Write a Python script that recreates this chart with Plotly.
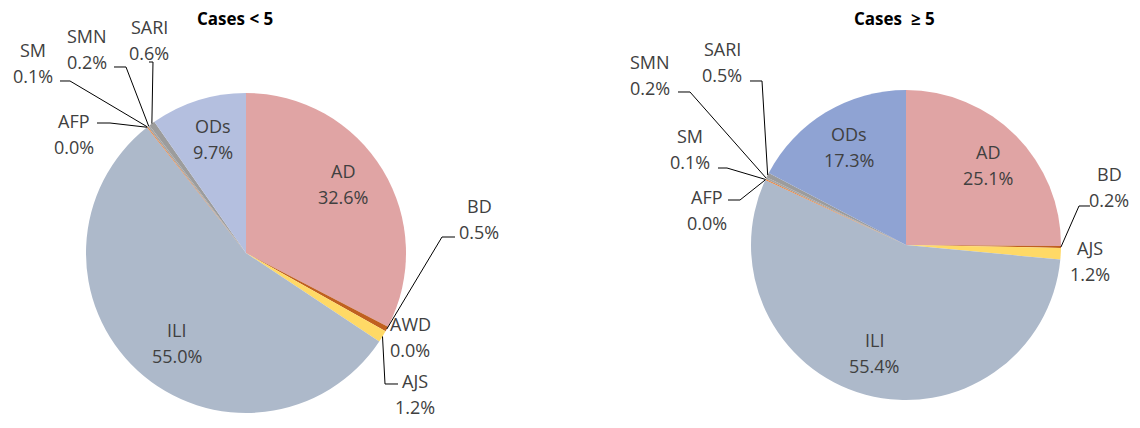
import math
import plotly.graph_objects as go

# ---------------- data ----------------
categories = ["AD", "BD", "AWD", "AJS", "ILI", "AFP", "SM", "SMN", "SARI", "ODs"]
under5_values = [32.6, 0.5, 0.0, 1.2, 55.0, 0.0, 0.1, 0.2, 0.6, 9.7]
over5_values = [25.1, 0.2, 0.0, 1.2, 55.4, 0.0, 0.1, 0.2, 0.5, 17.3]
titles = ["Cases < 5", "Cases  \u2265 5"]

# ---------------- style ----------------
PAGE_MARGIN = 8          # default body margin of the html page
W, H = 1140 - 2 * PAGE_MARGIN, 428 - 2 * PAGE_MARGIN
FONT = "Open Sans"
TXT = "#404040"
LABEL_SIZE = 18
base_colors = {"AD": "#E0A4A4", "BD": "#C0601F", "AWD": "#70AD47", "AJS": "#FFD966",
               "ILI": "#ADB9CA", "AFP": "#5B9BD5", "SM": "#ED7D31", "SMN": "#A5A5A5",
               "SARI": "#9C9C9C"}

pie_styles = [
    dict(values=under5_values, cx=246, cy=253, r=160, ods="#B4BFDF", title=(235, 19),
         inside={"AD": (-3, -8), "ODs": (2, -3), "ILI": (10, 4)},
         outside={
             "SM": dict(label=(33, 63), path=[(60, 81), (70, 81)]),
             "SMN": dict(label=(87, 49), path=[(114, 67), (126, 67)]),
             "SARI": dict(label=(149, 40), path=[(149, 62), (153, 62)]),
             "AFP": dict(label=(74, 134), path=[(97, 123), (110, 123)]),
             "BD": dict(label=(479, 219), path=[(455, 237), (442, 237)]),
             "AWD": dict(label=(410, 337), path=None),
             "AJS": dict(label=(415, 394), path=[(398, 384), (385, 384)]),
         }),
    dict(values=over5_values, cx=906, cy=245, r=155, ods="#8FA3D3", title=(894, 19),
         inside={"AD": (2, 0), "ODs": (2, -1), "ILI": (-2, -1)},
         outside={
             "SMN": dict(label=(650, 75), path=[(678, 92), (690, 92)]),
             "SARI": dict(label=(722, 62), path=[(750, 81), (762, 81)]),
             "SM": dict(label=(690, 149), path=[(718, 168), (727, 168)]),
             "AFP": dict(label=(707, 210), path=[(728, 200), (740, 200)]),
             "BD": dict(label=(1109, 187), path=[(1090, 206), (1079, 206)]),
             "AJS": dict(label=(1090, 261), path=None),
         }),
]


def px(x):
    return (x - PAGE_MARGIN) / W


def py(y):
    return 1 - (y - PAGE_MARGIN) / H


fig = go.Figure()
annotations = []
shapes = []

for st, title in zip(pie_styles, titles):
    vals = st["values"]
    cx, cy, r = st["cx"], st["cy"], st["r"]
    colors = [base_colors.get(c, st["ods"]) for c in categories]
    fig.add_trace(go.Pie(
        labels=categories, values=vals, sort=False, direction="clockwise", rotation=0,
        marker=dict(colors=colors, line=dict(width=0)),
        textinfo="none", hoverinfo="label+percent", showlegend=False,
        domain=dict(x=[px(cx - r), px(cx + r)], y=[py(cy + r), py(cy - r)]),
    ))
    total = sum(vals)
    cum = 0.0
    mids = {}
    for c, v in zip(categories, vals):
        mids[c] = 2 * math.pi * (cum + v / 2) / total
        cum += v

    def add_label(name, pct, x, y):
        for t, dy in ((name, -13), (pct, 13)):
            annotations.append(dict(x=px(x), y=py(y + dy), xref="paper", yref="paper",
                                    text=t, showarrow=False, xanchor="center", yanchor="middle",
                                    font=dict(family=FONT, size=LABEL_SIZE, color=TXT)))

    for c, (nx, ny) in st["inside"].items():
        v = vals[categories.index(c)]
        a = mids[c]
        x = cx + 0.73 * r * math.sin(a) + nx
        y = cy - 0.73 * r * math.cos(a) + ny
        add_label(c, f"{v:.1f}%", x, y)

    for c, o in st["outside"].items():
        v = vals[categories.index(c)]
        add_label(c, f"{v:.1f}%", *o["label"])
        if o["path"]:
            a = mids[c]
            ex = cx + r * math.sin(a)
            ey = cy - r * math.cos(a)
            pts = o["path"] + [(ex, ey)]
            d = "M " + " L ".join(f"{px(x):.5f},{py(y):.5f}" for x, y in pts)
            shapes.append(dict(type="path", path=d, xref="paper", yref="paper",
                               line=dict(color="black", width=1)))

    annotations.append(dict(x=px(st["title"][0]), y=py(st["title"][1]), xref="paper", yref="paper",
                            text=f"<b>{title}</b>", showarrow=False, xanchor="center", yanchor="middle",
                            font=dict(family=FONT, size=17, color="black")))

fig.update_layout(width=W, height=H, margin=dict(l=0, r=0, t=0, b=0),
                  paper_bgcolor="white", plot_bgcolor="white",
                  annotations=annotations, shapes=shapes)

fig.write_html("out.html")
